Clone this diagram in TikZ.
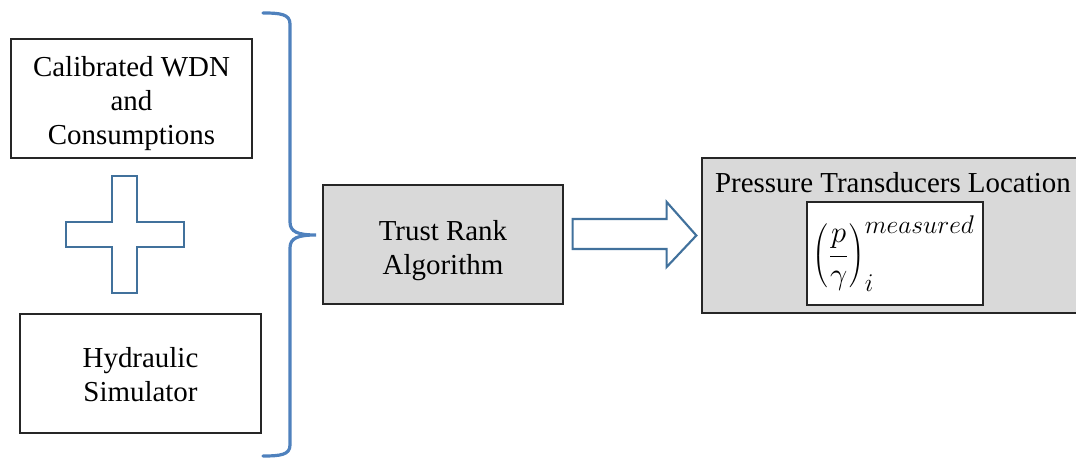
\documentclass[tikz,border=0pt]{standalone}
\usepackage{fontspec}
\setmainfont{Liberation Serif}
\usetikzlibrary{calc}
\definecolor{shapeblue}{HTML}{41719C}
\definecolor{braceblue}{HTML}{4F81BD}
\definecolor{panelgray}{HTML}{D9D9D9}
\tikzset{
  txt/.style={font=\fontsize{21.7}{25.5}\selectfont, align=center, inner sep=0pt},
  whitebox/.style={draw=black!85, line width=1pt, fill=white,
    minimum width=180.75pt, minimum height=89.25pt, inner sep=0pt},
  graybox/.style={whitebox, fill=panelgray},
  outline/.style={draw=shapeblue, line width=1.6pt, line join=miter, fill=white},
  bracestyle/.style={draw=braceblue, line width=2.4pt, line cap=round}
}
\begin{document}
\begin{tikzpicture}[x=0.75pt,y=-0.75pt]
\useasboundingbox (0,0) rectangle (1076,459);

% input boxes
\node[whitebox] (wdn) at (131.5,98.5) {};
\node[txt] (wdntext) at ($(wdn.center)+(0,5)$) {Calibrated WDN\\and\\Consumptions};
\node[whitebox] (sim) at (140.5,373.5) {};
\node[txt] (simtext) at ($(sim.center)+(0,1.5)$) {Hydraulic\\Simulator};

% plus sign between the inputs
\draw[outline] (112,176) -- (137,176) -- (137,222) -- (184,222) -- (184,247)
  -- (137,247) -- (137,293) -- (112,293) -- (112,247) -- (66,247)
  -- (66,222) -- (112,222) -- cycle;

% curly brace gathering both inputs
\coordinate (btop) at (263,13);
\coordinate (bbot) at (263,456);
\coordinate (btip) at (316,235);
\draw[bracestyle] (btop) .. controls (280,13) and (290,14) .. (290,24)
  -- (290,222) .. controls (290,232) and (298,235) .. (btip)
  .. controls (298,235) and (290,238) .. (290,248)
  -- (290,445) .. controls (290,455) and (280,456) .. (bbot);

% algorithm
\node[graybox, minimum width=180pt] (trust) at (443,244.5) {};
\node[txt] (trusttext) at ($(trust.center)+(0,6)$) {Trust Rank\\Algorithm};

% result panel
\node[graybox, minimum width=283.5pt, minimum height=116.25pt] (press) at (891,235.5) {};
\node[txt] (ptitle) at (893,183) {Pressure Transducers Location};
\node[draw=black!85, line width=1pt, fill=white, minimum width=132pt,
  minimum height=77.25pt, inner sep=0pt] (formula) at (895,253.5) {};
\node[inner sep=0pt, anchor=west, scale=1.33, font=\fontsize{19}{22}\selectfont] (expr) at (812,254)
  {$\displaystyle\left(\frac{p}{\gamma}\right)_{i}^{measured}$};

% block arrow from algorithm to result
\coordinate (as) at ($(trust.east)+(9,-25.5)$);
\coordinate (at) at ($(press.west)+(-5,0)$);
\draw[outline] (as) -- ++(94,0) -- ++(0,-17) -- (at) -- ($(as)+(94,48)$)
  -- ++(0,-18) -- ($(as)+(0,30)$) -- cycle;
\end{tikzpicture}
\end{document}
